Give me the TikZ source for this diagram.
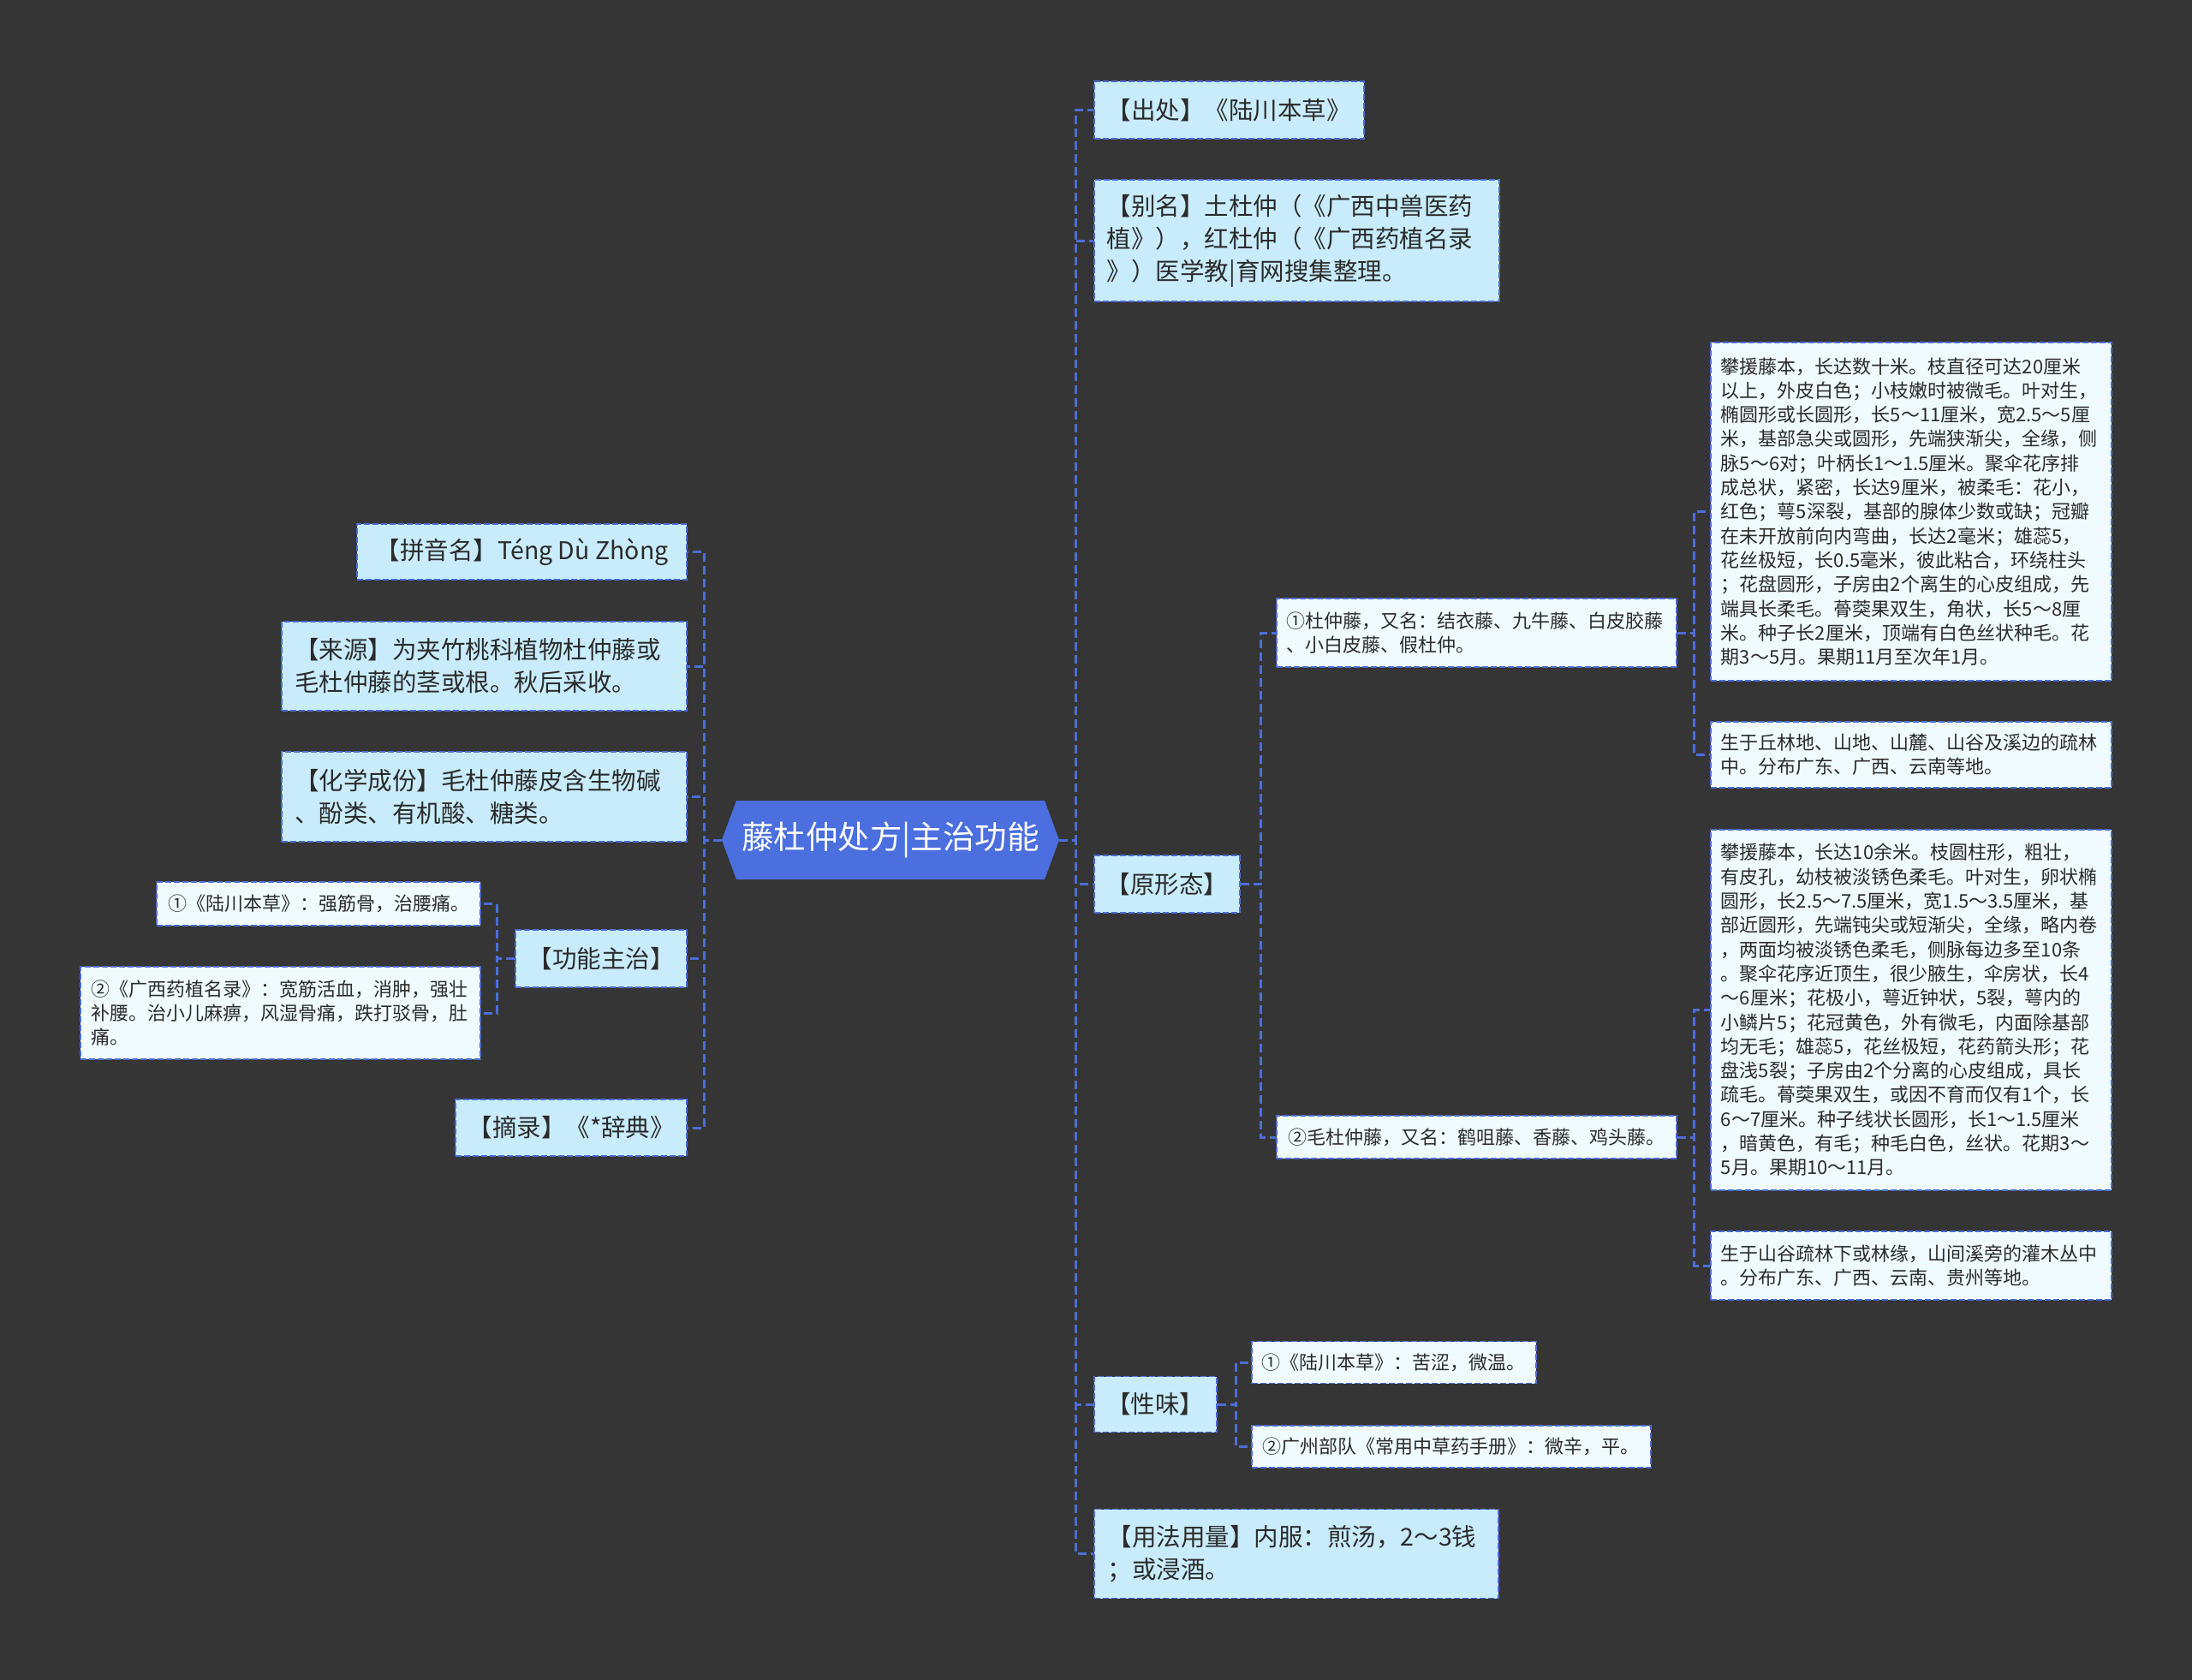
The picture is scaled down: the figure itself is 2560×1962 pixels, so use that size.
\documentclass[tikz,border=0pt]{standalone}
\usepackage{fontspec}
\setmainfont{Noto Sans CJK SC}
\usetikzlibrary{calc}

\definecolor{bgdark}{HTML}{353535}
\definecolor{rootblue}{HTML}{4B6FDE}
\definecolor{topicfill}{HTML}{C8ECFB}
\definecolor{leaffill}{HTML}{EFFBFE}
\definecolor{linkblue}{HTML}{4C6DD8}
\definecolor{inkgray}{HTML}{2B2B2B}

\tikzset{
  topic/.style={draw=linkblue, fill=topicfill, line width=1.6pt, dash pattern=on 7pt off 3pt,
    inner sep=0pt, align=left, text=inkgray, font=\fontsize{28.5}{38}\selectfont},
  leaf/.style={topic, fill=leaffill, font=\fontsize{22}{28.3}\selectfont},
  boxsize/.style 2 args={minimum width=#1pt, minimum height=#2pt},
  wrapped/.style 2 args={text width=#1pt-#2pt-#2pt, inner xsep=#2pt},
  link/.style={draw=linkblue, line width=3pt, dash pattern=on 10pt off 5pt},
}

\begin{document}
\begin{tikzpicture}[x=1pt, y=-1pt]
  \path[use as bounding box, fill=bgdark] (0,0) rectangle (2560,1962);

  % centre
  \coordinate (c) at (1040,981);
  \fill[rootblue] ($(c)+(-197,0)$) -- ++(17,-46) -- ++(360,0) -- ++(17,46) -- ++(-17,46) -- ++(-360,0) -- cycle;
  \node[boxsize={394}{92}, inner sep=0pt, text=white, font=\fontsize{37.5}{40}\selectfont] (root) at (c) {藤杜仲处方|主治功能};

  % right branch
  \node[topic, boxsize={315}{67}, anchor=west] (chuchu) at (1277,128.5) {【出处】《陆川本草》};
  \node[topic, boxsize={473}{142}, wrapped={473}{15}, anchor=west] (bieming) at (1277,281) {【别名】土杜仲（《广西中兽医药\\植》），红杜仲（《广西药植名录\\》）医学教|育网搜集整理。};
  \node[topic, boxsize={170}{67}, anchor=west] (xingtai) at (1277,1032.5) {【原形态】};
  \node[topic, boxsize={143}{65}, anchor=west] (xingwei) at (1277,1640) {【性味】};
  \node[topic, boxsize={472}{104}, wrapped={472}{16}, anchor=west] (yongfa) at (1277,1814.5) {【用法用量】内服：煎汤，2～3钱\\；或浸酒。};

  % left branch
  \node[topic, boxsize={385}{65}, anchor=east] (pinyin) at (803,644.5) {【拼音名】Téng Dù Zhòng};
  \node[topic, boxsize={473}{104}, wrapped={473}{15}, anchor=east] (laiyuan) at (803,778) {【来源】为夹竹桃科植物杜仲藤或\\毛杜仲藤的茎或根。秋后采收。};
  \node[topic, boxsize={473}{105}, wrapped={473}{15}, anchor=east] (huaxue) at (803,930.5) {【化学成份】毛杜仲藤皮含生物碱\\、酚类、有机酸、糖类。};
  \node[topic, boxsize={200}{67}, anchor=east] (gongneng) at (803,1119.5) {【功能主治】};
  \node[topic, boxsize={270}{66}, anchor=east] (zhailu) at (803,1317) {【摘录】《*辞典》};

  \node[leaf, boxsize={378}{51}, anchor=east] (gn1) at (562,1055.5) {①《陆川本草》：强筋骨，治腰痛。};
  \node[leaf, boxsize={467}{108}, wrapped={467}{12}, anchor=east] (gn2) at (562,1183) {②《广西药植名录》：宽筋活血，消肿，强壮\\补腰。治小儿麻痹，风湿骨痛，跌打驳骨，肚\\痛。};

  % plants
  \node[leaf, boxsize={467}{80}, wrapped={467}{12}, anchor=west] (teng1) at (1490,739) {①杜仲藤，又名：结衣藤、九牛藤、白皮胶藤\\、小白皮藤、假杜仲。};
  \node[leaf, boxsize={467}{50}, anchor=west] (teng2) at (1490,1328) {②毛杜仲藤，又名：鹤咀藤、香藤、鸡头藤。};

  \node[leaf, boxsize={468}{395}, wrapped={468}{12}, anchor=west] (teng1a) at (1997,597.5) {攀援藤本，长达数十米。枝直径可达20厘米\\以上，外皮白色；小枝嫩时被微毛。叶对生，\\椭圆形或长圆形，长5～11厘米，宽2.5～5厘\\米，基部急尖或圆形，先端狭渐尖，全缘，侧\\脉5～6对；叶柄长1～1.5厘米。聚伞花序排\\成总状，紧密，长达9厘米，被柔毛：花小，\\红色；萼5深裂，基部的腺体少数或缺；冠瓣\\在未开放前向内弯曲，长达2毫米；雄蕊5，\\花丝极短，长0.5毫米，彼此粘合，环绕柱头\\；花盘圆形，子房由2个离生的心皮组成，先\\端具长柔毛。蓇葖果双生，角状，长5～8厘\\米。种子长2厘米，顶端有白色丝状种毛。花\\期3～5月。果期11月至次年1月。};
  \node[leaf, boxsize={468}{77}, wrapped={468}{12}, anchor=west] (teng1b) at (1997,881.5) {生于丘林地、山地、山麓、山谷及溪边的疏林\\中。分布广东、广西、云南等地。};
  \node[leaf, boxsize={468}{421}, wrapped={468}{12}, anchor=west] (teng2a) at (1997,1179.5) {攀援藤本，长达10余米。枝圆柱形，粗壮，\\有皮孔，幼枝被淡锈色柔毛。叶对生，卵状椭\\圆形，长2.5～7.5厘米，宽1.5～3.5厘米，基\\部近圆形，先端钝尖或短渐尖，全缘，略内卷\\，两面均被淡锈色柔毛，侧脉每边多至10条\\。聚伞花序近顶生，很少腋生，伞房状，长4\\～6厘米；花极小，萼近钟状，5裂，萼内的\\小鳞片5；花冠黄色，外有微毛，内面除基部\\均无毛；雄蕊5，花丝极短，花药箭头形；花\\盘浅5裂；子房由2个分离的心皮组成，具长\\疏毛。蓇葖果双生，或因不育而仅有1个，长\\6～7厘米。种子线状长圆形，长1～1.5厘米\\，暗黄色，有毛；种毛白色，丝状。花期3～\\5月。果期10～11月。};
  \node[leaf, boxsize={468}{80}, wrapped={468}{12}, anchor=west] (teng2b) at (1997,1478) {生于山谷疏林下或林缘，山间溪旁的灌木丛中\\。分布广东、广西、云南、贵州等地。};

  \node[leaf, boxsize={332}{49}, anchor=west] (wei1) at (1461,1591) {①《陆川本草》：苦涩，微温。};
  \node[leaf, boxsize={466}{49}, anchor=west] (wei2) at (1461,1689.5) {②广州部队《常用中草药手册》：微辛，平。};

  % links
  \foreach \n in {chuchu,bieming,xingtai,xingwei,yongfa}{\draw[link] (root.east) -- ++(19,0) |- (\n.west);}
  \foreach \n in {pinyin,laiyuan,huaxue,gongneng,zhailu}{\draw[link] (root.west) -- ++(-20,0) |- (\n.east);}
  \foreach \n in {gn1,gn2}{\draw[link] (gongneng.west) -- ++(-21,0) |- (\n.east);}
  \foreach \n in {teng1,teng2}{\draw[link] (xingtai.east) -- ++(24,0) |- (\n.west);}
  \foreach \n in {teng1a,teng1b}{\draw[link] (teng1.east) -- ++(20,0) |- (\n.west);}
  \foreach \n in {teng2a,teng2b}{\draw[link] (teng2.east) -- ++(20,0) |- (\n.west);}
  \foreach \n in {wei1,wei2}{\draw[link] (xingwei.east) -- ++(22,0) |- (\n.west);}
\end{tikzpicture}
\end{document}
